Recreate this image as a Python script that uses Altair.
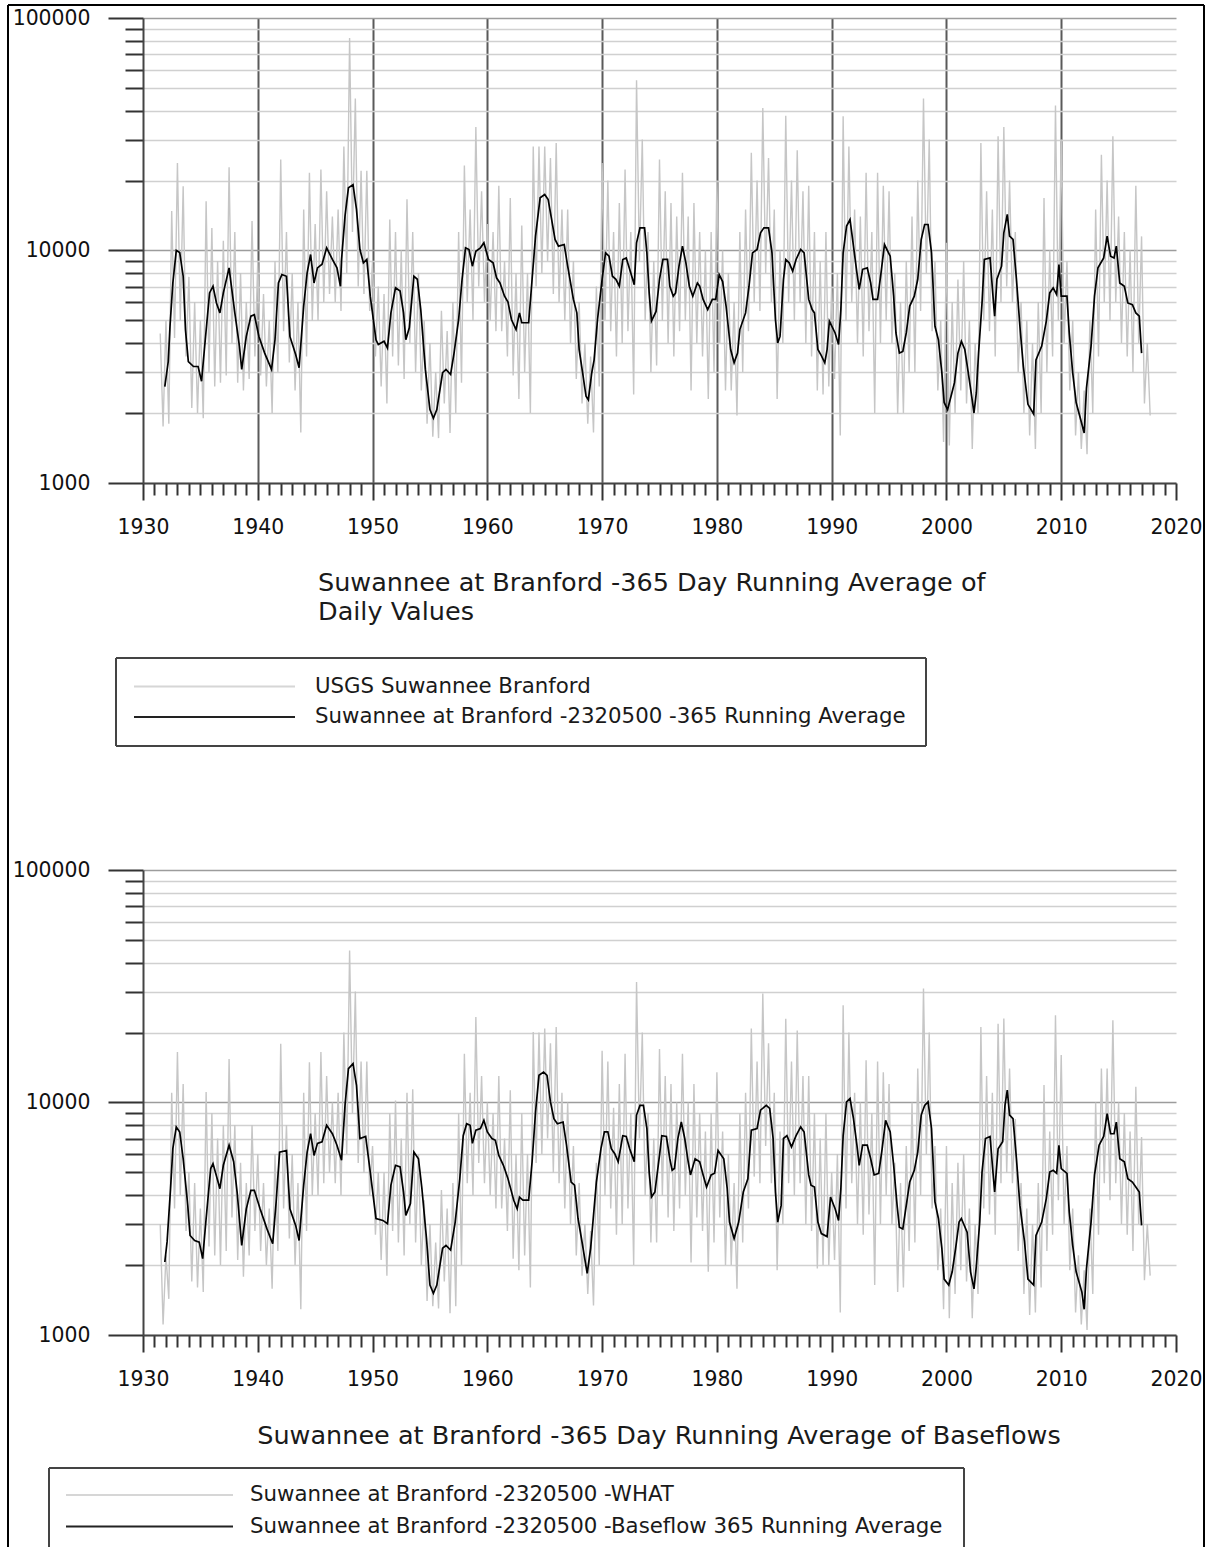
import altair as alt
import pandas as pd

FONT = "DejaVu Sans"

# ---------------- axis values ----------------
X_TICKS = list(range(1930, 2021))
Y_TICKS = [1000, 2000, 3000, 4000, 5000, 6000, 7000, 8000, 9000,
           10000, 20000, 30000, 40000, 50000, 60000, 70000, 80000, 90000, 100000]

# ---------------- texts ----------------
TOP_TITLE = ["Suwannee at Branford -365 Day Running Average of", "Daily Values"]
BOTTOM_TITLE = "Suwannee at Branford -365 Day Running Average of Baseflows"
TOP_LEGEND = ["USGS Suwannee Branford", "Suwannee at Branford -2320500 -365 Running Average"]
BOTTOM_LEGEND = ["Suwannee at Branford -2320500 -WHAT",
                 "Suwannee at Branford -2320500 -Baseflow 365 Running Average"]

# ---------------- top panel: daily values (quarter-year readings, peaks/troughs) ----------------
top_daily_start = 1931.5
top_daily = [
    4400, 1750,
    5000, 1800, 14800, 4200,   23800, 5000, 18900, 3500,   7700, 2100, 6000, 2000,
    5000, 1900, 16300, 3000,   12500, 2600, 9000, 2700,    11000, 2900, 22800, 4000,
    12000, 2700, 8000, 2500,   6000, 2800, 13400, 3500,    9000, 2900, 6500, 2600,
    5000, 2000, 9000, 3000,    24600, 4500, 12000, 3300,   8000, 2500, 6000, 1650,
    15000, 3500, 21600, 5000,  13000, 5000, 22300, 6000,   18000, 6500, 14000, 6000,
    15000, 5500, 28000, 8000,  82000, 12000, 45000, 7000,  22000, 6500, 22000, 5500,
    9000, 3500, 7000, 2600,    6500, 2200, 13600, 3500,    12000, 3200, 10000, 2800,
    16600, 4000, 12000, 3000,  8000, 2500, 5000, 1800,     4000, 1580, 3000, 1560,
    5500, 2200, 4500, 1640,    6000, 2000, 12000, 2700,    23200, 6000, 15000, 5000,
    34000, 7000, 18000, 6000,  13000, 5000, 12000, 4500,   19000, 4500, 9000, 3500,
    16800, 2900, 8000, 2300,   12800, 3000, 8000, 2000,    28000, 7000, 28000, 8000,
    28000, 9000, 25000, 6500,  29000, 6000, 15000, 5000,   15000, 4000, 9000, 2800,
    6000, 2200, 4000, 1800,    3500, 1650, 7000, 2600,     23800, 5000, 20000, 4500,
    12000, 3500, 16000, 4000,  22300, 4500, 12000, 2400,   54000, 9000, 30000, 5000,
    12000, 3000, 9000, 3200,   24600, 5000, 18000, 4000,   16000, 3500, 14000, 4500,
    21600, 5000, 14000, 2500,  16000, 4000, 12000, 3500,   10000, 2300, 12000, 3000,
    20000, 4000, 10000, 2500,  8000, 2500, 6000, 1950,     12000, 3000, 15000, 4500,
    26300, 6000, 20000, 5500,  41000, 8000, 25000, 6000,   15000, 2300, 10000, 4000,
    38000, 6000, 20000, 5000,  27000, 6000, 18000, 4000,   19000, 3500, 12000, 2500,
    9000, 2400, 12000, 2600,   7000, 2800, 8000, 1600,     37800, 5000, 28000, 6000,
    15000, 4000, 14000, 3500,  21600, 4500, 12000, 2000,   21600, 4000, 19000, 5000,
    18000, 4000, 8000, 1980,   6000, 2000, 9000, 3000,     14000, 3000, 20000, 5500,
    45000, 8000, 30000, 4500,  9000, 2500, 5000, 1500,     10800, 1450, 6000, 2000,
    7500, 2500, 9000, 2200,    5000, 1400, 4000, 2000,     29000, 5000, 18000, 4500,
    15000, 3500, 31000, 6000,  34000, 7000, 20000, 6000,   12000, 3000, 6000, 2000,
    5000, 1600, 4000, 1400,    6000, 2000, 16800, 3000,    10000, 3500, 42000, 5000,
    30000, 4000, 9000, 2500,   5000, 1600, 3000, 1400,     2500, 1330, 5000, 2000,
    15000, 3500, 25800, 6000,  20000, 5000, 31000, 6000,   14000, 4000, 12000, 3500,
    10000, 3000, 19000, 4000,  11500, 2200, 4000, 1950,
]

# ---------------- top panel: 365-day running average ----------------
top_avg_years = [
    1931.9, 1932.2, 1932.35, 1932.6, 1932.9, 1933.2, 1933.5, 1933.7, 1933.95, 1934.4,
    1934.8, 1935.1, 1935.4, 1935.8, 1936.1, 1936.4, 1936.7, 1937.0, 1937.5, 1937.7,
    1938.0, 1938.4, 1938.6, 1939.0, 1939.4, 1939.7, 1940.1, 1940.6, 1941.2, 1941.5,
    1941.8, 1942.1, 1942.5, 1942.8, 1943.3, 1943.6, 1944.0, 1944.3, 1944.6, 1944.9,
    1945.2, 1945.6, 1946.0, 1946.5, 1946.9, 1947.2, 1947.3, 1947.6, 1947.9, 1948.3,
    1948.6, 1948.9, 1949.2, 1949.5, 1949.8, 1950.3, 1950.5, 1951.0, 1951.3, 1951.6,
    1952.0, 1952.4, 1952.7, 1952.9, 1953.2, 1953.6, 1953.9, 1954.2, 1954.6, 1955.0,
    1955.3, 1955.6, 1956.1, 1956.4, 1956.8, 1957.1, 1957.5, 1957.8, 1958.1, 1958.4,
    1958.7, 1959.0, 1959.4, 1959.7, 1960.1, 1960.5, 1960.8, 1961.1, 1961.5, 1961.8,
    1962.1, 1962.5, 1962.8, 1963.0, 1963.6, 1963.9, 1964.2, 1964.6, 1965.0, 1965.3,
    1965.6, 1965.9, 1966.2, 1966.7, 1967.0, 1967.5, 1967.8, 1968.0, 1968.3, 1968.6,
    1968.8, 1969.1, 1969.3, 1969.6, 1970.0, 1970.3, 1970.6, 1970.9, 1971.2, 1971.5,
    1971.8, 1972.1, 1972.5, 1972.8, 1973.0, 1973.3, 1973.7, 1973.9, 1974.1, 1974.3,
    1974.7, 1975.0, 1975.3, 1975.7, 1975.9, 1976.2, 1976.4, 1976.7, 1977.0, 1977.3,
    1977.6, 1977.9, 1978.3, 1978.5, 1978.8, 1979.2, 1979.6, 1979.9, 1980.2, 1980.5,
    1980.8, 1981.2, 1981.5, 1981.8, 1982.0, 1982.5, 1982.8, 1983.1, 1983.5, 1983.8,
    1984.1, 1984.5, 1984.8, 1985.1, 1985.3, 1985.5, 1985.8, 1986.0, 1986.3, 1986.6,
    1986.9, 1987.3, 1987.6, 1988.0, 1988.3, 1988.5, 1988.8, 1989.1, 1989.4, 1989.6,
    1989.8, 1990.3, 1990.6, 1990.8, 1991.0, 1991.3, 1991.6, 1991.9, 1992.2, 1992.4,
    1992.7, 1993.1, 1993.4, 1993.6, 1994.0, 1994.3, 1994.6, 1995.1, 1995.4, 1995.6,
    1995.9, 1996.2, 1996.5, 1996.8, 1997.2, 1997.5, 1997.8, 1998.1, 1998.4, 1998.7,
    1999.0, 1999.3, 1999.6, 1999.8, 2000.1, 2000.4, 2000.7, 2001.0, 2001.3, 2001.6,
    2001.9, 2002.2, 2002.4, 2002.6, 2002.8, 2003.1, 2003.3, 2003.8, 2004.1, 2004.2,
    2004.4, 2004.8, 2005.0, 2005.3, 2005.5, 2005.8, 2006.1, 2006.4, 2006.7, 2007.1,
    2007.6, 2007.8, 2008.3, 2008.7, 2009.0, 2009.3, 2009.6, 2009.8, 2010.0, 2010.5,
    2010.7, 2011.0, 2011.3, 2011.7, 2012.0, 2012.2, 2012.6, 2012.9, 2013.2, 2013.7,
    2014.0, 2014.3, 2014.6, 2014.8, 2015.1, 2015.5, 2015.8, 2016.2, 2016.5, 2016.8,
    2017.0,
]
top_avg_vals = [
    2600, 3330, 4700, 7250, 10000, 9800, 7750, 4570, 3330, 3170,
    3170, 2740, 4000, 6570, 7020, 5950, 5390, 6570, 8420, 7020,
    5390, 3880, 3080, 4270, 5220, 5300, 4270, 3620, 3080, 4130,
    7250, 7880, 7750, 4270, 3570, 3130, 5770, 8010, 9610, 7250,
    8420, 8730, 10270, 9150, 8420, 7020, 9150, 14060, 18600, 19200,
    15020, 10100, 8850, 9150, 6360, 4130, 3940, 4070, 3810, 5390,
    6910, 6690, 5390, 4130, 4650, 7750, 7520, 5570, 3080, 2070,
    1900, 2070, 2980, 3080, 2930, 3620, 5050, 7520, 10270, 10100,
    8560, 9930, 10270, 10790, 9150, 8850, 7630, 7250, 6360, 6000,
    5050, 4570, 5390, 4890, 4890, 7520, 11530, 16850, 17420, 16570,
    13600, 11150, 10440, 10610, 8560, 6160, 5390, 3750, 2980, 2360,
    2280, 2980, 3380, 5050, 7520, 9770, 9450, 7750, 7520, 7020,
    9150, 9290, 8010, 7130, 10790, 12520, 12520, 9770, 6570, 4970,
    5470, 7520, 9150, 9150, 7020, 6360, 6570, 8560, 10440, 8850,
    7020, 6360, 7250, 7020, 6160, 5570, 6160, 6160, 7880, 7350,
    5770, 3750, 3290, 3620, 4570, 5390, 7020, 9770, 10100, 11920,
    12520, 12520, 9770, 5050, 4000, 4270, 7520, 9150, 8850, 8150,
    9150, 10100, 9770, 6160, 5570, 5390, 3750, 3530, 3290, 3750,
    4970, 4420, 3940, 5570, 9770, 12730, 13590, 10440, 8010, 6800,
    8300, 8420, 7250, 6160, 6160, 8010, 10610, 9450, 6360, 4420,
    3620, 3680, 4420, 5770, 6360, 7520, 11150, 12940, 12940, 9770,
    4720, 4130, 2980, 2220, 2070, 2360, 2700, 3620, 4070, 3750,
    2980, 2360, 2000, 2440, 3620, 5950, 9150, 9290, 5950, 5220,
    7520, 8560, 11920, 14300, 11530, 11150, 7520, 4720, 3170, 2180,
    1980, 3380, 3880, 4970, 6570, 6910, 6470, 8690, 6360, 6360,
    4420, 2980, 2220, 1870, 1640, 2560, 3880, 6360, 8420, 9290,
    11530, 9450, 9290, 10440, 7250, 7020, 5950, 5850, 5390, 5220,
    3620,
]

# ---------------- bottom panel: daily baseflow ("WHAT") ----------------
bot_daily_start = 1931.5
bot_daily = [
    3000, 1110,
    2200, 1430, 11000, 3500,   16500, 4000, 12000, 2800,   5000, 1700, 4500, 1600,
    3500, 1530, 11100, 2400,   9000, 2200, 7000, 2000,     8000, 2300, 15400, 3200,
    8000, 2100, 5500, 1780,    4500, 2200, 8000, 2800,     6000, 2300, 4500, 2000,
    3500, 1580, 6000, 2300,    17900, 3500, 8000, 2600,    6000, 2000, 4500, 1290,
    11000, 2800, 14900, 4000,  9000, 4000, 16500, 4500,    13000, 5000, 10000, 4500,
    11000, 4000, 20000, 6000,  45000, 9000, 30000, 5500,   15000, 5000, 15000, 4000,
    6500, 2700, 5000, 2100,    5000, 1800, 9000, 2800,     10200, 2500, 7000, 2200,
    11000, 3000, 11400, 2500,  6000, 2000, 3800, 1400,     3000, 1330, 2500, 1300,
    4200, 1700, 3500, 1240,    4500, 1330, 9000, 2000,     16200, 4500, 11000, 4000,
    23300, 5500, 13000, 4500,  10000, 4000, 9000, 3500,    13000, 3500, 7000, 2800,
    11300, 2130, 6000, 1900,   9000, 2200, 6000, 1600,     20100, 5500, 20000, 6000,
    20800, 7000, 18000, 5000,  21100, 4500, 11000, 3500,   10000, 3000, 6500, 2200,
    4500, 1800, 3000, 1500,    2800, 1340, 5500, 2000,     16700, 4000, 15000, 3500,
    9500, 2700, 12000, 3000,   16200, 3500, 9000, 2000,    33000, 7000, 20000, 4000,
    9000, 2500, 7000, 2500,    17000, 4000, 13000, 3200,   12000, 2800, 10000, 3500,
    16200, 4000, 10000, 2050,  12000, 3200, 9000, 2800,    7500, 1870, 9000, 2500,
    13500, 3200, 7500, 2000,   6000, 2000, 4500, 1580,     9000, 2500, 11000, 3500,
    20800, 4800, 15000, 4500,  29400, 6500, 18000, 4500,   11000, 1900, 7500, 3000,
    22900, 4500, 15000, 4000,  20400, 4500, 13000, 3000,   13000, 2800, 9000, 1930,
    7000, 2000, 9000, 2000,    5000, 2100, 6000, 1250,     26200, 3500, 20000, 4500,
    11000, 3000, 10000, 2700,  15200, 3300, 9000, 1640,    15000, 3000, 13500, 4000,
    12000, 3000, 5500, 1530,   4500, 1600, 6500, 2300,     10000, 2500, 14000, 4000,
    30900, 6000, 20000, 3500,  6500, 1900, 3500, 1290,     6500, 1180, 4500, 1500,
    5500, 1900, 6000, 1700,    3500, 1180, 3000, 1500,     21100, 3500, 13000, 3300,
    11000, 2700, 21800, 4500,  23000, 5000, 14000, 4500,   8500, 2300, 4500, 1500,
    3500, 1220, 3000, 1250,    4500, 1600, 11900, 2300,    7500, 2700, 23700, 3800,
    16000, 3000, 6500, 1900,   3500, 1250, 2200, 1110,     1900, 1050, 3500, 1500,
    10000, 2700, 14000, 4500,  14000, 3800, 22600, 4500,   10000, 3000, 9000, 2700,
    7500, 2300, 11700, 3000,   7100, 1720, 3000, 1800,
]

# ---------------- bottom panel: baseflow 365 running average ----------------
bot_avg_years = [
    1931.9, 1932.1, 1932.4, 1932.6, 1932.9, 1933.2, 1933.5, 1933.9, 1934.1, 1934.5,
    1934.9, 1935.2, 1935.5, 1935.9, 1936.1, 1936.5, 1936.7, 1937.0, 1937.5, 1937.9,
    1938.2, 1938.6, 1939.0, 1939.4, 1939.7, 1940.2, 1940.8, 1941.3, 1941.6, 1941.9,
    1942.5, 1942.8, 1943.3, 1943.6, 1944.0, 1944.3, 1944.6, 1944.9, 1945.2, 1945.6,
    1946.0, 1946.5, 1946.9, 1947.3, 1947.6, 1947.9, 1948.3, 1948.6, 1948.9, 1949.4,
    1949.8, 1950.3, 1950.9, 1951.3, 1951.6, 1952.0, 1952.4, 1952.7, 1952.9, 1953.3,
    1953.6, 1954.0, 1954.3, 1954.7, 1955.0, 1955.3, 1955.6, 1956.1, 1956.4, 1956.8,
    1957.2, 1957.6, 1957.9, 1958.2, 1958.5, 1958.7, 1959.0, 1959.4, 1959.7, 1960.0,
    1960.4, 1960.7, 1961.0, 1961.4, 1961.8, 1962.3, 1962.6, 1962.8, 1963.1, 1963.6,
    1963.9, 1964.2, 1964.5, 1964.9, 1965.2, 1965.5, 1965.8, 1966.1, 1966.6, 1966.9,
    1967.3, 1967.6, 1967.9, 1968.2, 1968.7, 1969.0, 1969.2, 1969.5, 1969.9, 1970.2,
    1970.5, 1970.8, 1971.1, 1971.4, 1971.8, 1972.1, 1972.4, 1972.8, 1973.0, 1973.3,
    1973.6, 1973.9, 1974.1, 1974.3, 1974.6, 1975.0, 1975.2, 1975.6, 1975.9, 1976.1,
    1976.3, 1976.6, 1976.9, 1977.2, 1977.5, 1977.7, 1978.1, 1978.5, 1978.8, 1979.1,
    1979.5, 1979.8, 1980.1, 1980.6, 1980.9, 1981.1, 1981.5, 1981.9, 1982.3, 1982.7,
    1983.0, 1983.5, 1983.8, 1984.3, 1984.6, 1984.9, 1985.1, 1985.3, 1985.6, 1985.8,
    1986.1, 1986.5, 1986.9, 1987.3, 1987.6, 1988.0, 1988.2, 1988.5, 1988.8, 1989.1,
    1989.6, 1989.9, 1990.3, 1990.6, 1990.8, 1991.0, 1991.3, 1991.6, 1991.9, 1992.2,
    1992.4, 1992.7, 1993.1, 1993.4, 1993.7, 1994.1, 1994.4, 1994.7, 1995.1, 1995.4,
    1995.7, 1995.9, 1996.2, 1996.5, 1996.8, 1997.2, 1997.5, 1997.8, 1998.1, 1998.4,
    1998.7, 1999.0, 1999.3, 1999.6, 1999.8, 2000.2, 2000.5, 2000.8, 2001.1, 2001.3,
    2001.8, 2002.1, 2002.4, 2002.6, 2002.9, 2003.1, 2003.4, 2003.8, 2004.1, 2004.2,
    2004.5, 2004.9, 2005.1, 2005.3, 2005.5, 2005.8, 2006.1, 2006.4, 2006.8, 2007.1,
    2007.6, 2007.8, 2008.3, 2008.7, 2009.0, 2009.3, 2009.6, 2009.8, 2010.0, 2010.5,
    2010.7, 2011.0, 2011.3, 2011.8, 2012.0, 2012.2, 2012.6, 2012.9, 2013.3, 2013.7,
    2014.0, 2014.3, 2014.6, 2014.8, 2015.1, 2015.5, 2015.8, 2016.2, 2016.5, 2016.8,
    2017.0,
]
bot_avg_vals = [
    2060, 2520, 4260, 6330, 7850, 7470, 5730, 3610, 2680, 2550,
    2510, 2130, 3170, 5200, 5460, 4630, 4260, 5370, 6550, 5560,
    4120, 2430, 3490, 4190, 4190, 3490, 2860, 2470, 3740, 6120,
    6220, 3490, 2960, 2550, 4410, 6120, 7340, 5920, 6670, 6780,
    7980, 7340, 6550, 5650, 9720, 13980, 14700, 11860, 7000, 7140,
    5020, 3170, 3110, 3010, 4410, 5370, 5280, 4120, 3270, 3680,
    6120, 5730, 4260, 2600, 1640, 1510, 1640, 2360, 2430, 2320,
    3060, 4700, 7200, 8100, 7980, 6670, 7600, 7730, 8380, 7470,
    7000, 6880, 5920, 5370, 4700, 3800, 3490, 3920, 3800, 3800,
    5560, 9100, 13090, 13520, 13090, 10060, 8520, 8100, 8240, 6550,
    4550, 4410, 3170, 2600, 1840, 2360, 3060, 4550, 6330, 7470,
    7470, 6330, 6020, 5560, 7200, 7140, 6330, 5560, 8830, 9720,
    9720, 7730, 5020, 3920, 4120, 5920, 7200, 7140, 5730, 5110,
    5200, 7000, 8240, 7000, 5560, 4880, 5730, 5560, 4880, 4330,
    4880, 4960, 6220, 5730, 4260, 3060, 2600, 3060, 4120, 4700,
    7600, 7730, 9270, 9720, 9440, 7000, 4120, 3060, 3610, 7000,
    7200, 6440, 7200, 7850, 7470, 4880, 4410, 4330, 3060, 2730,
    2650, 3920, 3490, 3110, 4260, 7200, 10060, 10400, 8520, 6550,
    5370, 6550, 6550, 5730, 4880, 4960, 6330, 8380, 7470, 5370,
    3610, 2910, 2860, 3610, 4550, 5110, 6120, 8830, 9720, 10060,
    7730, 3740, 3170, 2360, 1740, 1640, 1870, 2360, 3060, 3170,
    2770, 1870, 1580, 1970, 3060, 5020, 7000, 7140, 4700, 4120,
    6330, 6780, 9720, 11300, 8830, 8520, 5730, 3610, 2520, 1740,
    1640, 2680, 3060, 3860, 5020, 5110, 4960, 6550, 5200, 4960,
    3380, 2430, 1870, 1530, 1290, 1930, 3060, 4880, 6550, 7140,
    8950, 7340, 7340, 8240, 5730, 5560, 4700, 4550, 4330, 4120,
    2960,
]

PLOT_W = 1033
PLOT_H = 465

MAJOR_Y = "datum.value === 1000 || datum.value === 10000 || datum.value === 100000"


def x_axis(show_grid):
    kw = dict(
        values=X_TICKS, format="d", title=None,
        labelExpr="datum.value % 10 === 0 ? datum.label : ''",
        tickSize={"condition": {"test": "datum.value % 10 === 0", "value": 17}, "value": 12},
        tickColor="#333333", tickWidth=2,
        domainColor="#444444", domainWidth=2,
        labelFont=FONT, labelFontSize=20.4, labelColor="#111111",
        labelPadding=17, labelOverlap=False, labelFlush=False,
        grid=show_grid,
    )
    if show_grid:
        kw["gridOpacity"] = {"condition": {"test": "datum.value % 10 === 0 && datum.value > 1930 && datum.value < 2020",
                                           "value": 1}, "value": 0}
        kw["gridColor"] = "#5a5a5a"
        kw["gridWidth"] = 2
    return alt.Axis(**kw)


def y_axis():
    return alt.Axis(
        values=Y_TICKS, format="d", title=None,
        labelExpr="(" + MAJOR_Y + ") ? datum.label : ''",
        tickSize={"condition": {"test": MAJOR_Y, "value": 35}, "value": 18},
        tickColor="#333333", tickWidth=2,
        domainColor="#444444", domainWidth=2,
        labelFont=FONT, labelFontSize=20.4, labelColor="#111111",
        labelPadding=18, labelOverlap=False,
        grid=True,
        gridColor={"condition": {"test": "datum.value === 10000 || datum.value === 100000", "value": "#9c9c9c"},
                   "value": "#d0d0d0"},
        gridWidth=1.7,
    )


def hline(x1, x2, y, color, width):
    return alt.Chart(pd.DataFrame({"k": [0]})).mark_rule(color=color, strokeWidth=width).encode(
        x=alt.value(x1), x2=alt.value(x2), y=alt.value(y))


def vline(x, y1, y2, color, width):
    return alt.Chart(pd.DataFrame({"k": [0]})).mark_rule(color=color, strokeWidth=width).encode(
        x=alt.value(x), y=alt.value(y1), y2=alt.value(y2))


def label(text, x, y, size, align="left"):
    return alt.Chart(pd.DataFrame({"t": [text]})).mark_text(
        font=FONT, fontSize=size, color="#1a1a1a", align=align, baseline="middle").encode(
        x=alt.value(x), y=alt.value(y), text="t:N")


def panel(daily_start, daily_vals, avg_years, avg_vals, show_xgrid):
    daily_df = pd.DataFrame({"year": [daily_start + 0.25 * i for i in range(len(daily_vals))],
                             "flow": daily_vals})
    avg_df = pd.DataFrame({"year": avg_years, "flow": avg_vals})
    x = alt.X("year:Q", scale=alt.Scale(domain=[1930, 2020], nice=False, zero=False), axis=x_axis(show_xgrid))
    y = alt.Y("flow:Q", scale=alt.Scale(type="log", domain=[1000, 100000], nice=False), axis=y_axis())
    daily = alt.Chart(daily_df).mark_line(color="#c6c6c6", strokeWidth=1.4).encode(x=x, y=y)
    avg = alt.Chart(avg_df).mark_line(color="#000000", strokeWidth=1.7).encode(x=x, y=y)
    return [daily, avg]


# ---------------- top panel ----------------
top_layers = panel(top_daily_start, top_daily, top_avg_years, top_avg_vals, True)
top_layers += [
    label(TOP_TITLE[0], 175, 565, 25.5),
    label(TOP_TITLE[1], 175, 594, 25.5),
    # legend box
    hline(-27, 783, 640, "#444444", 2), hline(-27, 783, 728, "#444444", 2),
    vline(-27, 640, 728, "#444444", 2), vline(783, 640, 728, "#444444", 2),
    hline(-9, 152, 668.5, "#d6d6d6", 2), hline(-9, 152, 699, "#222222", 2),
    label(TOP_LEGEND[0], 172, 668.5, 21.3),
    label(TOP_LEGEND[1], 172, 699, 21.3),
    # outer frame
    hline(-135, 1061, -13, "#000000", 2),
    vline(-135, -13, 1529, "#000000", 2),
    vline(1061, -13, 1529, "#000000", 2),
]
top = alt.layer(*top_layers).properties(width=PLOT_W, height=PLOT_H)

# ---------------- bottom panel ----------------
bot_layers = panel(bot_daily_start, bot_daily, bot_avg_years, bot_avg_vals, False)
bot_layers += [
    label(BOTTOM_TITLE, 516, 566, 25.5, align="center"),
    hline(-94, 821, 598, "#444444", 2),
    vline(-94, 598, 677, "#444444", 2), vline(821, 598, 677, "#444444", 2),
    hline(-77, 90, 625, "#d6d6d6", 2), hline(-77, 90, 656.5, "#222222", 2),
    label(BOTTOM_LEGEND[0], 107, 625, 21.3),
    label(BOTTOM_LEGEND[1], 107, 656.5, 21.3),
]
bottom = alt.layer(*bot_layers).properties(width=PLOT_W, height=PLOT_H)

chart = alt.vconcat(top, bottom, spacing=387, bounds="flush").properties(
    padding={"left": 7, "top": 4, "right": 3, "bottom": 0},
    background="white",
).configure_view(stroke=None)

chart.save("out.html", embed_options={"renderer": "svg", "actions": False})
